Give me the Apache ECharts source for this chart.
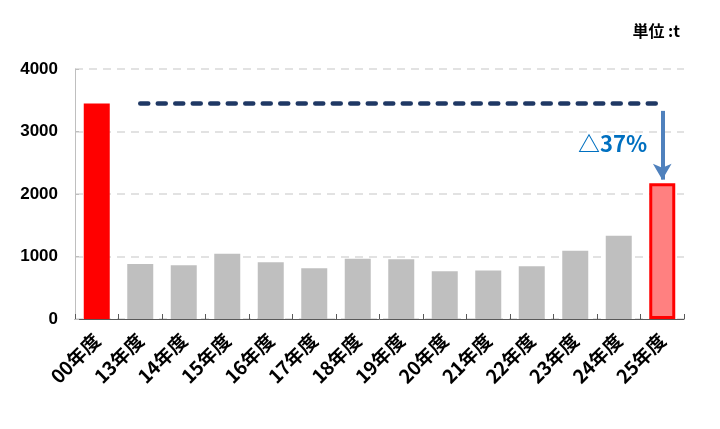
<!DOCTYPE html>
<html>
<head>
<meta charset="utf-8">
<script src="https://cdn.jsdelivr.net/npm/echarts@6/dist/echarts.min.js"></script>
<style>html,body{margin:0;padding:0;background:#fff;}#c{width:720px;height:429px;}</style>
</head>
<body>
<div id="c"></div>
<script>
const categories = ['00年度','13年度','14年度','15年度','16年度','17年度','18年度','19年度','20年度','21年度','22年度','23年度','24年度','25年度'];
const values = [3450, 880, 862, 1045, 907, 812, 966, 956, 765, 775, 843, 1094, 1334, 2172];
const baseline = [null, 3450, 3450, 3450, 3450, 3450, 3450, 3450, 3450, 3450, 3450, 3450, 3450, 3450];
const yTicks = [0, 1000, 2000, 3000, 4000];
const unitText = '単位 :t';
const dropText = '△37%';

const chart = echarts.init(document.getElementById('c'));
const barData = values.map((v, i) => {
  if (i === 0) return { value: v, itemStyle: { color: '#ff0000' } };
  if (i === values.length - 1) return { value: v, itemStyle: { color: '#ff8080', borderColor: '#ff0000', borderWidth: 3 } };
  return { value: v, itemStyle: { color: '#bfbfbf' } };
});
chart.setOption({
  animation: false,
  grid: { left: 75, right: 36, top: 69, bottom: 110 },
  xAxis: {
    type: 'category',
    data: categories,
    axisLine: { lineStyle: { color: '#595959', width: 1 } },
    axisTick: { show: true, inside: true, length: 5, lineStyle: { color: '#595959' } },
    axisLabel: { rotate: 45, color: '#000', fontSize: 19, fontWeight: 'bold', fontFamily: 'Noto Sans CJK JP', margin: 18 }
  },
  yAxis: {
    type: 'value',
    min: yTicks[0], max: yTicks[yTicks.length - 1], interval: 1000,
    axisLine: { show: true, lineStyle: { color: '#bfbfbf' } },
    axisTick: { show: true, inside: true, length: 4, lineStyle: { color: '#bfbfbf' } },
    splitLine: { lineStyle: { color: '#d9d9d9', type: [8, 6], width: 1.5 } },
    axisLabel: { color: '#000', fontSize: 17, fontWeight: 'bold', fontFamily: 'Liberation Sans', margin: 17, formatter: v => String(v) }
  },
  series: [
    {
      type: 'bar',
      data: barData,
      barWidth: 26,
      markLine: {
        silent: true,
        symbol: ['none', 'arrow'],
        symbolSize: [14, 16],
        label: { show: false },
        lineStyle: { color: '#4f81bd', width: 4, type: 'solid' },
        data: [[{ coord: ['25年度', 3330] }, { coord: ['25年度', 2230] }]]
      }
    },
    {
      type: 'line',
      data: baseline,
      symbol: 'none',
      lineStyle: { color: '#1f3864', width: 4.5, type: [8, 9.5], cap: 'round' },
      z: 5
    }
  ],
  graphic: [
    { type: 'text', right: 40, top: 23, style: { text: unitText, fill: '#000', font: 'bold 16px "Noto Sans CJK JP"' } },
    { type: 'text', left: 578, top: 133, style: { text: dropText, fill: '#0070c0', font: 'bold 22px "Noto Sans CJK JP"' } }
  ]
});
</script>
</body>
</html>
